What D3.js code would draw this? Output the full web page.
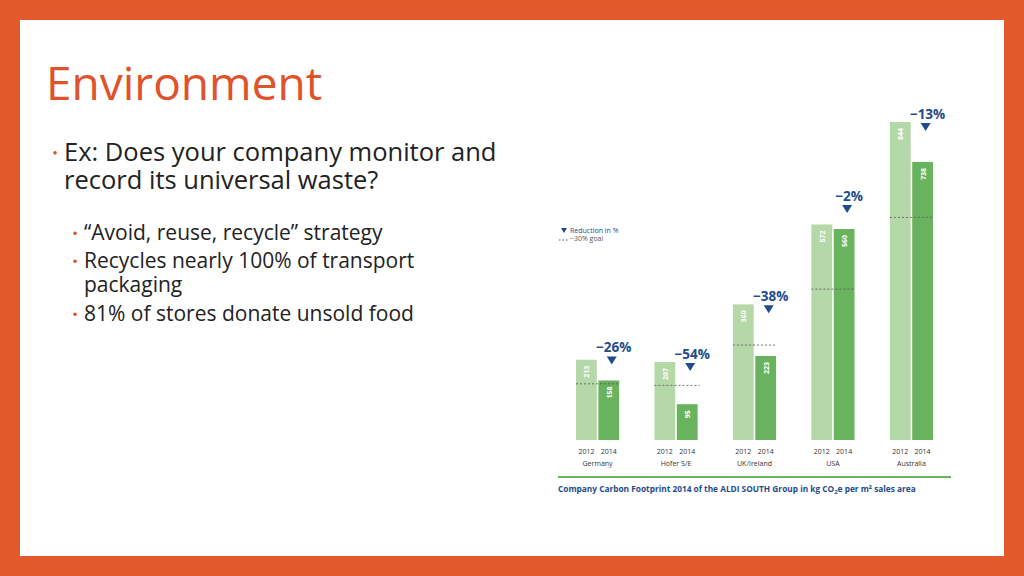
<!DOCTYPE html><html><head><meta charset="utf-8"><script src="https://cdn.jsdelivr.net/npm/d3@7"></script>
<style>body{margin:0;background:#E25A2B}svg{display:block}</style></head><body><svg width="1024" height="576"></svg>
<script>
const countries=["Germany","Hofer S/E","UK/Ireland","USA","Australia"];
const v2012=[213,207,360,572,844];
const v2014=[158,95,223,560,738];
const reduction=["−26%","−54%","−38%","−2%","−13%"];
const years=["2012","2014"];
const svg=d3.select("svg");
svg.append("rect").attr("x",20).attr("y",20).attr("width",984).attr("height",536).attr("fill","#fff");
svg.append("text").attr("x",46).attr("y",100).attr("font-family","Open Sans").attr("font-size",46).attr("fill","#E0522A").text("Environment");
const bul=[[64,161,25.5,"Ex: Does your company monitor and",1],[64,189,25.5,"record its universal waste?",0],[84,240,21,"“Avoid, reuse, recycle” strategy",1],[84,268,21,"Recycles nearly 100% of transport",1],[84,292,21,"packaging",0],[84,321,21,"81% of stores donate unsold food",1]];
bul.forEach(b=>{svg.append("text").attr("x",b[0]).attr("y",b[1]).attr("font-family","Open Sans").attr("font-size",b[2]).attr("fill","#222").text(b[3]);
 if(b[4])svg.append("circle").attr("cx",b[0]-9).attr("cy",b[1]-b[2]*0.32).attr("r",1.8).attr("fill","#E0522A");});
const x0=d3.scaleBand().domain(countries).range([576,933]).paddingInner(0.45).paddingOuter(0);
const x1=d3.scaleBand().domain(years).range([0,x0.bandwidth()]).paddingInner(0.07);
const y=d3.scaleLinear().domain([0,844]).range([440,122]);
const f="Open Sans";
countries.forEach((c,i)=>{
 const g=svg.append("g").attr("transform",`translate(${x0(c)},0)`);
 [[v2012[i],"2012","#B5D8A8"],[v2014[i],"2014","#6AB35E"]].forEach(([v,yr,col])=>{
  const bx=x1(yr),w=x1.bandwidth();
  g.append("rect").attr("x",bx).attr("y",y(v)).attr("width",w).attr("height",y(0)-y(v)).attr("fill",col);
  g.append("text").attr("transform",`translate(${bx+w/2+3},${y(v)+6}) rotate(-90)`).attr("text-anchor","end").attr("font-family",f).attr("font-weight","bold").attr("font-size",7).attr("fill","#fff").text(v);
  g.append("text").attr("x",bx+w/2).attr("y",454).attr("text-anchor","middle").attr("font-family",f).attr("font-size",7).attr("fill","#333").text(yr);
 });
 g.append("text").attr("x",x0.bandwidth()/2).attr("y",466).attr("text-anchor","middle").attr("font-family",f).attr("font-size",7).attr("fill","#333").text(c);
 g.append("line").attr("x1",x1("2012")).attr("x2",x0.bandwidth()+(i==1?2:0)).attr("y1",y(v2012[i]*0.7)).attr("y2",y(v2012[i]*0.7)).attr("stroke","#555").attr("stroke-width",0.8).attr("stroke-dasharray","2,2");
 const ty=Math.min(y(v2012[i])-3,y(v2014[i])-28);
 const cx=x1("2014")+x1.bandwidth()/2+3;
 g.append("text").attr("x",cx+2).attr("y",ty).attr("text-anchor","middle").attr("font-family",f).attr("font-weight","bold").attr("font-size",13.5).attr("fill","#1E4C8C").text(reduction[i]);
 g.append("path").attr("d",`M${cx-5},${ty+4}L${cx+5},${ty+4}L${cx},${ty+12}Z`).attr("fill","#1E4C8C");
});
svg.append("path").attr("d","M561,228L567,228L564,233Z").attr("fill","#1E4C8C");
svg.append("text").attr("x",570).attr("y",233).attr("font-family",f).attr("font-size",7).attr("fill","#1E4C8C").text("Reduction in %");
svg.append("line").attr("x1",559).attr("x2",569).attr("y1",240).attr("y2",240).attr("stroke","#555").attr("stroke-dasharray","1.5,2");
svg.append("text").attr("x",570).attr("y",241).attr("font-family",f).attr("font-size",7).attr("fill","#555").text("−30% goal");
svg.append("line").attr("x1",558).attr("x2",951).attr("y1",477).attr("y2",477).attr("stroke","#6AB35E").attr("stroke-width",2);
svg.append("text").attr("x",558).attr("y",492).attr("font-family",f).attr("font-weight","bold").attr("font-size",8.3).attr("fill","#1E4C8C").html("Company Carbon Footprint 2014 of the ALDI SOUTH Group in kg CO<tspan font-size='6' dy='2'>2</tspan><tspan dy='-2'>e per m² sales area</tspan>");
</script></body></html>
